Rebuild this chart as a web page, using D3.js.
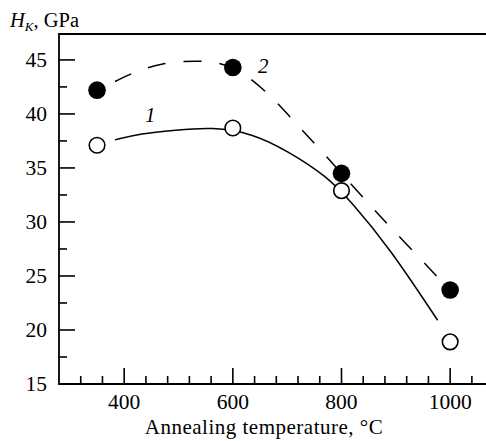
<!DOCTYPE html>
<html>
<head>
<meta charset="utf-8">
<script src="https://cdn.jsdelivr.net/npm/d3@7"></script>
<style>
  body { margin: 0; background: #fff; }
</style>
</head>
<body>
<div id="chart"></div>
<script>
const temps = [350, 600, 800, 1000];
const hardness1 = [37.1, 38.7, 32.9, 18.9];   // open circles, curve 1
const hardness2 = [42.2, 44.3, 34.5, 23.7];   // filled circles, curve 2

// fitted curves
const curve1 = [[383, 37.6], [430, 38.2], [494, 38.5], [562, 38.8], [636, 38.2],
  [700, 36.6], [774, 34.2], [817, 31.9], [887, 27.7], [977, 20.9]];
const curve2 = [[383, 43.0], [415, 43.8], [466, 44.7], [536, 45.0], [600, 44.6],
  [664, 42.0], [702, 39.9], [770, 36.2], [844, 32.0], [894, 29.3], [975, 25.0]];

const xTicks = [400, 600, 800, 1000];
const yTicks = [15, 20, 25, 30, 35, 40, 45];

const width = 486, height = 441;
const margin = { top: 34, right: 0, bottom: 57, left: 59 };
const font = 'Liberation Serif';

const svg = d3.select('#chart').append('svg')
  .attr('width', width).attr('height', height)
  .style('display', 'block')
  .attr('font-family', font);

const x = d3.scaleLinear().domain([280, 1066]).range([margin.left, width - margin.right]);
const y = d3.scaleLinear().domain([15, 47.4]).range([height - margin.bottom, margin.top]);

const g = svg.append('g');

// frame: left, bottom, top
const x0 = x.range()[0], x1 = x.range()[1];
const y0 = y.range()[0], y1 = y.range()[1];
g.append('path')
  .attr('d', `M${x1},${y1}H${x0}V${y0}H${x1}`)
  .attr('fill', 'none').attr('stroke', '#000').attr('stroke-width', 1.8);

// x ticks (minor every 40)
const xMinor = d3.range(320, 1061, 40);
g.selectAll('line.xt').data(xMinor).join('line')
  .attr('x1', d => x(d)).attr('x2', d => x(d))
  .attr('y1', y0).attr('y2', d => y0 - (xTicks.includes(d) ? 16 : 8))
  .attr('stroke', '#000').attr('stroke-width', 1.6);
g.selectAll('text.xl').data(xTicks).join('text')
  .attr('font-family', font)
  .attr('x', d => x(d)).attr('y', y0 + 25)
  .attr('text-anchor', 'middle').attr('font-size', 21.5)
  .text(d => d);

// y ticks (minor every 2.5)
const yMinor = d3.range(17.5, 47, 2.5);
g.selectAll('line.yt').data(yMinor).join('line')
  .attr('y1', d => y(d)).attr('y2', d => y(d))
  .attr('x1', x0).attr('x2', d => x0 + (yTicks.includes(d) ? 16 : 8))
  .attr('stroke', '#000').attr('stroke-width', 1.6);
g.selectAll('text.yl').data(yTicks).join('text')
  .attr('font-family', font)
  .attr('x', x0 - 12).attr('y', d => y(d) + 7)
  .attr('text-anchor', 'end').attr('font-size', 21.5)
  .text(d => d);

// curves
const line = d3.line().x(d => x(d[0])).y(d => y(d[1])).curve(d3.curveBasis);
g.append('path').attr('d', line(curve1))
  .attr('fill', 'none').attr('stroke', '#000').attr('stroke-width', 1.5);
g.append('path').attr('d', line(curve2))
  .attr('fill', 'none').attr('stroke', '#000').attr('stroke-width', 1.5)
  .attr('stroke-dasharray', '18,18');

// markers
g.selectAll('circle.open').data(temps).join('circle')
  .attr('cx', d => x(d)).attr('cy', (d, i) => y(hardness1[i]))
  .attr('r', 7.8).attr('fill', '#fff').attr('stroke', '#000').attr('stroke-width', 1.6);
g.selectAll('circle.filled').data(temps).join('circle')
  .attr('cx', d => x(d)).attr('cy', (d, i) => y(hardness2[i]))
  .attr('r', 8.8).attr('fill', '#000');

// curve labels
g.append('text').attr('x', 145).attr('y', 122).attr('font-family', font)
  .attr('font-size', 21).attr('font-style', 'italic').text('1');
g.append('text').attr('x', 258).attr('y', 73).attr('font-family', font)
  .attr('font-size', 21).attr('font-style', 'italic').text('2');

// axis titles
const yt = svg.append('text').attr('x', 10).attr('y', 27)
  .attr('font-family', font).attr('font-size', 20.5);
yt.append('tspan').attr('font-style', 'italic').text('H');
yt.append('tspan').attr('font-style', 'italic').attr('font-size', 13).attr('dy', 4).text('K');
yt.append('tspan').attr('dy', -4).text(', GPa');

svg.append('text').attr('x', 264).attr('y', 434).attr('font-family', font)
  .attr('text-anchor', 'middle').attr('font-size', 21).attr('letter-spacing', 0.5)
  .text('Annealing temperature, °C');
</script>
</body>
</html>
